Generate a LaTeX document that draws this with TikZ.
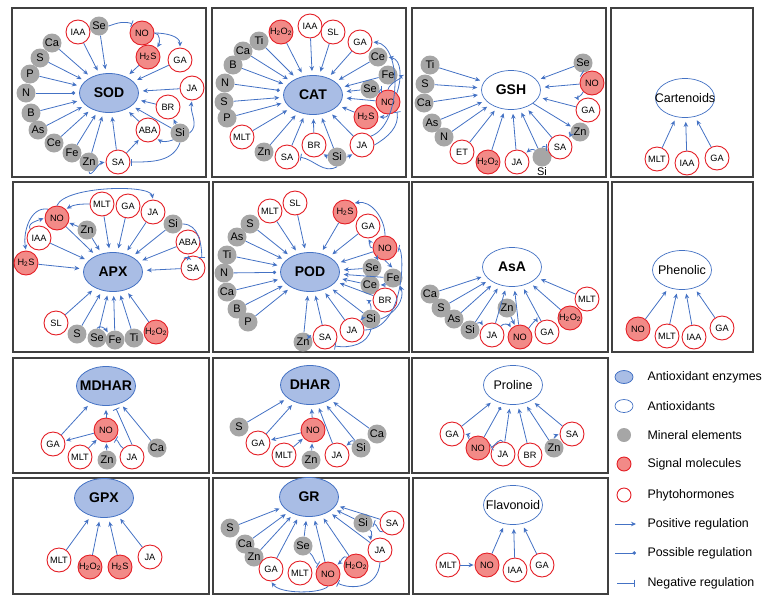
\documentclass[tikz,border=0pt]{standalone}
\usepackage{fontspec}
\setmainfont{Liberation Sans}
\usetikzlibrary{shapes.geometric,arrows.meta}
\definecolor{arr}{HTML}{4472C4}
\definecolor{enzfill}{HTML}{A9BDE5}
\definecolor{minfill}{HTML}{A6A6A6}
\definecolor{sigfill}{HTML}{F28A87}
\definecolor{redline}{HTML}{E41E25}
\definecolor{frame}{HTML}{404040}
\tikzset{
  enzym/.style={ellipse, draw=arr, fill=enzfill, line width=0.8pt, minimum width=59pt, minimum height=39pt, inner xsep=-12pt, inner ysep=0pt, font=\fontsize{14}{14}\selectfont\bfseries},
  antiox/.style={enzym, fill=white, line width=0.7pt, font=\fontsize{12.5}{12.5}\selectfont},
  minel/.style={circle, fill=minfill, minimum size=19pt, inner sep=0pt, font=\fontsize{11}{11}\selectfont},
  phyto/.style={circle, draw=redline, fill=white, line width=0.9pt, minimum size=24pt, inner sep=0pt, font=\fontsize{9.2}{9.2}\selectfont},
  sigmol/.style={phyto, fill=sigfill},
  activ/.style={draw=arr, line width=0.8pt, -{Stealth[length=5pt,width=4.5pt]}, shorten >=1pt},
  possib/.style={activ, -{Circle[length=3.5pt]}},
  inhib/.style={activ, -{Bar[width=7pt]}},
  fan/.style={shorten >=4pt},
  panel/.style={draw=frame, line width=1.2pt},
  legtext/.style={anchor=west, font=\fontsize{12.4}{12.4}\selectfont},
}
\begin{document}
\begin{tikzpicture}[x=1pt,y=-1pt]
\useasboundingbox (0,0) rectangle (763,600);
% panel frames
\draw[panel] (12,8) rectangle (206,177);
\draw[panel] (212,8) rectangle (406,177);
\draw[panel] (412,8) rectangle (606,177);
\draw[panel] (611,8) rectangle (753,177);
\draw[panel] (13,182) rectangle (209,352);
\draw[panel] (213,182) rectangle (409,352);
\draw[panel] (412,182) rectangle (608,352);
\draw[panel] (612,182) rectangle (753,352);
\draw[panel] (13,358) rectangle (209,473);
\draw[panel] (213,358) rectangle (409,473);
\draw[panel] (412,358) rectangle (608,473);
\draw[panel] (13,478) rectangle (209,594);
\draw[panel] (213,478) rectangle (409,594);
\draw[panel] (413,478) rectangle (608,594);

% SOD
\node[enzym] (SOD) at (109,93) {SOD};
\node[minel] (sSe) at (99,26) {Se};
\node[phyto] (sIAA) at (78,32) {IAA};
\node[sigmol] (sNO) at (142,33) {NO};
\node[sigmol] (sH2S) at (148,57) {H\textsubscript{2}S};
\node[phyto] (sGA) at (180,60) {GA};
\node[phyto] (sJA) at (192,88) {JA};
\node[phyto] (sBR) at (168,107) {BR};
\node[minel] (sSi) at (180,133) {Si};
\node[phyto] (sABA) at (148,130) {ABA};
\node[phyto] (sSA) at (118,162) {SA};
\node[minel] (sZn) at (89,162) {Zn};
\node[minel] (sFe) at (72,153) {Fe};
\node[minel] (sCe) at (54,143) {Ce};
\node[minel] (sAs) at (38,130) {As};
\node[minel] (sB) at (31,113) {B};
\node[minel] (sN) at (26,93) {N};
\node[minel] (sP) at (30,74) {P};
\node[minel] (sS) at (40,58) {S};
\node[minel] (sCa) at (52,43) {Ca};
\draw[activ,fan] (sCa) -- (SOD);
\draw[activ,fan] (sS) -- (SOD);
\draw[activ,fan] (sP) -- (SOD);
\draw[possib,fan] (sN) -- (SOD);
\draw[activ,fan] (sB) -- (SOD);
\draw[activ,fan] (sAs) -- (SOD);
\draw[activ,fan] (sCe) -- (SOD);
\draw[activ,fan] (sFe) -- (SOD);
\draw[activ,fan] (sZn) -- (SOD);
\draw[activ,fan] (sSA) -- (SOD);
\draw[activ,fan] (sIAA) -- (SOD);
\draw[activ,fan] (sSe) -- (SOD);
\draw[activ,fan] (sH2S) -- (SOD);
\draw[activ,fan] (sGA) -- (SOD);
\draw[activ,fan] (sJA) -- (SOD);
\draw[activ,fan] (sBR) -- (SOD);
\draw[activ,fan] (sSi) -- (SOD);
\draw[activ,fan] (sABA) -- (SOD);
\draw[activ] (sNO.east) to[out=0,in=60] (sH2S.north east);
\draw[activ] (sNO.east) to[out=0,in=90] (sGA.north);
\draw[inhib] (sSe.east) to[out=20,in=160] (sNO.north west);
\draw[activ] (sZn.south) to[out=-80,in=190] (sSA.west);
\draw[activ] (sSA) -- (sABA);
\draw[activ] (sSi.south west) to[out=200,in=-30] (sABA.south east);
\draw[activ] (sSi) -- (sBR);
\draw[activ] (sSi.east) to[out=40,in=-100] (sJA.south);
\draw[inhib] (sSi.south) to[out=-110,in=0] (sSA.east);

% CAT
\node[enzym] (CAT) at (313,95) {CAT};
\node[sigmol] (cH2O2) at (281,32) {H\textsubscript{2}O\textsubscript{2}};
\node[phyto] (cIAA) at (310,26) {IAA};
\node[phyto] (cSL) at (333,32) {SL};
\node[phyto] (cGA) at (360,42) {GA};
\node[minel] (cCe) at (378,57) {Ce};
\node[minel] (cFe) at (388,75) {Fe};
\node[minel] (cSe) at (370,89) {Se};
\node[sigmol] (cNO) at (388,102) {NO};
\node[sigmol] (cH2S) at (366,117) {H\textsubscript{2}S};
\node[phyto] (cJA) at (362,145) {JA};
\node[minel] (cSi) at (337,157) {Si};
\node[phyto] (cBR) at (314,145) {BR};
\node[phyto] (cSA) at (287,157) {SA};
\node[minel] (cZn) at (264,152) {Zn};
\node[phyto] (cMLT) at (242,137) {MLT};
\node[minel] (cP) at (227,118) {P};
\node[minel] (cS) at (224,102) {S};
\node[minel] (cN) at (225,83) {N};
\node[minel] (cB) at (233,65) {B};
\node[minel] (cCa) at (243,51) {Ca};
\node[minel] (cTi) at (259,41) {Ti};
\draw[activ,fan] (cTi) -- (CAT);
\draw[activ,fan] (cCa) -- (CAT);
\draw[activ,fan] (cB) -- (CAT);
\draw[possib,fan] (cN) -- (CAT);
\draw[activ,fan] (cS) -- (CAT);
\draw[activ,fan] (cP) -- (CAT);
\draw[activ,fan] (cMLT) -- (CAT);
\draw[activ,fan] (cZn) -- (CAT);
\draw[activ,fan] (cSA) -- (CAT);
\draw[activ,fan] (cBR) -- (CAT);
\draw[activ,fan] (cSi) -- (CAT);
\draw[activ,fan] (cJA) -- (CAT);
\draw[activ,fan] (cH2S) -- (CAT);
\draw[activ,fan] (cNO) -- (CAT);
\draw[activ,fan] (cSe) -- (CAT);
\draw[activ,fan] (cFe) -- (CAT);
\draw[activ,fan] (cCe) -- (CAT);
\draw[activ,fan] (cGA) -- (CAT);
\draw[activ,fan] (cSL) -- (CAT);
\draw[activ,fan] (cIAA) -- (CAT);
\draw[activ,fan] (cH2O2) -- (CAT);
\draw[activ] (cJA.north east) .. controls (402,125) and (402,45) .. (cGA.east);
\draw[activ] (cNO.north east) to[out=70,in=-10] (cCe.east);
\draw[activ] (cNO.north) to[out=80,in=-20] (cFe.east);
\draw[inhib] (cNO.north west) to[out=140,in=0] (cSe.east);
\draw[activ] (cNO.south) to[out=-100,in=0] (cH2S.east);
\draw[inhib] (cJA.east) to[out=30,in=-80] (cNO.south east);
\draw[activ] (cSi.east) to[out=-10,in=210] (cJA.south west);
\draw[activ] (cSi.west) to[out=190,in=-30] (cBR.south east);
\draw[inhib] (cSi.south) to[out=-150,in=-10] (cSA.east);

% GSH
\node[antiox,font=\fontsize{14}{14}\selectfont\bfseries] (GSH) at (511,90) {GSH};
\node[minel] (gTi) at (430,65) {Ti};
\node[minel] (gS) at (425,84) {S};
\node[minel] (gCa) at (424,103) {Ca};
\node[minel] (gAs) at (432,123) {As};
\node[minel] (gN) at (444,137) {N};
\node[phyto] (gET) at (462,152) {ET};
\node[sigmol] (gH2O2) at (488,162) {H\textsubscript{2}O\textsubscript{2}};
\node[phyto] (gJA) at (517,162) {JA};
\node[minel, label={[font=\fontsize{11}{11}\selectfont, inner sep=1pt]below:Si}] (gSi) at (542,157) {};
\node[phyto] (gSA) at (560,147) {SA};
\node[minel] (gZn) at (580,132) {Zn};
\node[phyto] (gGA) at (588,110) {GA};
\node[sigmol] (gNO) at (592,83) {NO};
\node[minel] (gSe) at (583,63) {Se};
\draw[activ,fan] (gTi) -- (GSH);
\draw[activ,fan] (gS) -- (GSH);
\draw[activ,fan] (gCa) -- (GSH);
\draw[activ,fan] (gAs) -- (GSH);
\draw[activ,fan] (gN) -- (GSH);
\draw[activ,fan] (gET) -- (GSH);
\draw[activ,fan] (gH2O2) -- (GSH);
\draw[activ,fan] (gJA) -- (GSH);
\draw[activ,fan] (gSi) -- (GSH);
\draw[activ,fan] (gSA) -- (GSH);
\draw[activ,fan] (gSe) -- (GSH);
\draw[activ,fan] (gNO) -- (GSH);
\draw[activ,fan] (gGA) -- (GSH);
\draw[activ] (GSH) -- (gZn);
\draw[activ] (gZn.west) to[out=170,in=60] (gSA.north east);
\draw[inhib] (gSe.south) to[out=-80,in=150] (gNO.north west);
\draw[activ] (gNO.south west) to[out=-110,in=120] (gGA.north west);
\draw[activ] (gSi.north west) to[out=150,in=40] (gJA.north east);
\draw[inhib] (gSi.north) to[out=80,in=180] (gSA.west);

% Cartenoids
\node[antiox] (CAR) at (685,98) {Cartenoids};
\node[phyto] (kMLT) at (657,159) {MLT};
\node[phyto] (kIAA) at (687,163) {IAA};
\node[phyto] (kGA) at (717,158) {GA};
\draw[activ,fan] (kMLT) -- (CAR);
\draw[activ,fan] (kIAA) -- (CAR);
\draw[activ,fan] (kGA) -- (CAR);

% APX
\node[enzym] (APX) at (113,272) {APX};
\node[sigmol] (aH2S) at (26,263) {H\textsubscript{2}S};
\node[phyto] (aIAA) at (39,238) {IAA};
\node[sigmol] (aNO) at (57,218) {NO};
\node[minel] (aZn) at (87,230) {Zn};
\node[phyto] (aMLT) at (102,204) {MLT};
\node[phyto] (aGA) at (128,206) {GA};
\node[phyto] (aJA) at (153,212) {JA};
\node[minel] (aSi) at (173,224) {Si};
\node[phyto] (aABA) at (188,242) {ABA};
\node[phyto] (aSA) at (193,268) {SA};
\node[phyto] (aSL) at (56,323) {SL};
\node[minel] (aS) at (77,334) {S};
\node[minel] (aSe) at (97,338) {Se};
\node[minel] (aFe) at (115,340) {Fe};
\node[minel] (aTi) at (134,338) {Ti};
\node[sigmol] (aH2O2) at (156,332) {H\textsubscript{2}O\textsubscript{2}};
\draw[activ,fan] (aH2S) -- (APX);
\draw[activ,fan] (aIAA) -- (APX);
\draw[activ,fan] (aNO) -- (APX);
\draw[activ,fan] (aZn) -- (APX);
\draw[activ,fan] (aMLT) -- (APX);
\draw[activ,fan] (aGA) -- (APX);
\draw[activ,fan] (aJA) -- (APX);
\draw[activ,fan] (aSi) -- (APX);
\draw[activ,fan] (aABA) -- (APX);
\draw[activ,fan] (aSA) -- (APX);
\draw[activ,fan] (aSL) -- (APX);
\draw[activ,fan] (aS) -- (APX);
\draw[activ,fan] (aSe) -- (APX);
\draw[activ,fan] (aFe) -- (APX);
\draw[activ,fan] (aTi) -- (APX);
\draw[activ,fan] (aH2O2) -- (APX);
\draw[activ] (aZn) -- (aNO);
\draw[activ] (aMLT.west) to[out=180,in=30] (aNO.north east);
\draw[activ] (aIAA.north west) to[out=120,in=200] (aNO.west);
\draw[activ] (aNO.north west) to[out=170,in=100] (aH2S.north);
\draw[activ] (aNO.north) .. controls (65,186) and (150,184) .. (aJA.north);
\draw[inhib] (aSi.east) to[out=0,in=90] (aSA.north east);
\draw[activ] (aSA.north west) to[out=120,in=-80] (aABA.south);
\draw[activ] (aSe.north) to[out=60,in=120] (aFe.north west);

% POD
\node[enzym] (POD) at (310,272) {POD};
\node[phyto] (pMLT) at (270,211) {MLT};
\node[phyto] (pSL) at (295,203) {SL};
\node[minel] (pS) at (250,224) {S};
\node[minel] (pAs) at (237,237) {As};
\node[minel] (pTi) at (227,255) {Ti};
\node[minel] (pN) at (224,273) {N};
\node[minel] (pCa) at (227,292) {Ca};
\node[minel] (pB) at (237,309) {B};
\node[minel] (pP) at (248,322) {P};
\node[sigmol] (pH2S) at (345,212) {H\textsubscript{2}S};
\node[phyto] (pGA) at (368,226) {GA};
\node[sigmol] (pNO) at (385,248) {NO};
\node[minel] (pSe) at (372,268) {Se};
\node[minel] (pFe) at (393,278) {Fe};
\node[minel] (pCe) at (370,285) {Ce};
\node[phyto] (pBR) at (385,300) {BR};
\node[minel] (pSi) at (371,319) {Si};
\node[phyto] (pJA) at (352,330) {JA};
\node[phyto] (pSA) at (325,337) {SA};
\node[minel] (pZn) at (303,342) {Zn};
\draw[activ,fan] (pS) -- (POD);
\draw[activ,fan] (pAs) -- (POD);
\draw[activ,fan] (pTi) -- (POD);
\draw[possib,fan] (pN) -- (POD);
\draw[activ,fan] (pCa) -- (POD);
\draw[activ,fan] (pB) -- (POD);
\draw[activ,fan] (pP) -- (POD);
\draw[activ,fan] (pMLT) -- (POD);
\draw[activ,fan] (pSL) -- (POD);
\draw[activ,fan] (pH2S) -- (POD);
\draw[activ,fan] (pGA) -- (POD);
\draw[activ,fan] (pNO) -- (POD);
\draw[activ,fan] (pSe) -- (POD);
\draw[activ,fan] (pFe) -- (POD);
\draw[activ,fan] (pCe) -- (POD);
\draw[activ,fan] (pBR) -- (POD);
\draw[activ,fan] (pSi) -- (POD);
\draw[activ,fan] (pJA) -- (POD);
\draw[activ,fan] (pSA) -- (POD);
\draw[activ,fan] (pZn) -- (POD);
\draw[activ] (pNO.north) to[out=90,in=10] (pH2S.north east);
\draw[activ] (pNO.west) to[out=180,in=-60] (pGA.south);
\draw[activ] (pNO.south west) -- (pSe.north east);
\draw[activ] (pNO.south) -- (pFe.north);
\draw[activ] (pFe.south west) -- (pCe.east);
\draw[activ] (pSi.north) to[out=80,in=200] (pBR.west);
\draw[activ] (pSi.west) to[out=190,in=60] (pJA.north east);
\draw[activ] (pSi.east) to[out=20,in=-70] (pFe.south east);
\draw[inhib] (pJA.east) .. controls (405,330) and (405,250) .. (pNO.east);
\draw[activ] (pZn.north east) to[out=40,in=180] (pSA.west);
\draw[inhib] (pSi.south) to[out=-100,in=-10] (pSA.south east);

% AsA
\node[antiox,font=\fontsize{14}{14}\selectfont\bfseries] (AsA) at (512,267) {AsA};
\node[minel] (xCa) at (430,294) {Ca};
\node[minel] (xS) at (441,308) {S};
\node[minel] (xAs) at (454,319) {As};
\node[minel] (xSi) at (470,330) {Si};
\node[phyto] (xJA) at (492,335) {JA};
\node[minel] (xZn) at (507,308) {Zn};
\node[sigmol] (xNO) at (520,337) {NO};
\node[phyto] (xGA) at (547,332) {GA};
\node[sigmol] (xH2O2) at (570,318) {H\textsubscript{2}O\textsubscript{2}};
\node[phyto] (xMLT) at (587,299) {MLT};
\draw[activ,fan] (xCa) -- (AsA);
\draw[activ,fan] (xS) -- (AsA);
\draw[activ,fan] (xAs) -- (AsA);
\draw[activ,fan] (xSi) -- (AsA);
\draw[activ,fan] (xJA) -- (AsA);
\draw[activ,fan] (xNO) -- (AsA);
\draw[activ,fan] (xGA) -- (AsA);
\draw[activ,fan] (xH2O2) -- (AsA);
\draw[activ,fan] (xMLT) -- (AsA);
\draw[activ] (xZn) -- (xNO);
\draw[activ] (xSi.north east) to[out=40,in=120] (xJA.north west);
\draw[activ] (xJA.north east) to[out=60,in=120] (xNO.north west);
\draw[activ] (xNO.north east) to[out=60,in=120] (xGA.north west);

% Phenolic
\node[antiox] (PHE) at (682,270) {Phenolic};
\node[sigmol] (hNO) at (638,329) {NO};
\node[phyto] (hMLT) at (667,336) {MLT};
\node[phyto] (hIAA) at (694,337) {IAA};
\node[phyto] (hGA) at (722,328) {GA};
\draw[activ,fan] (hNO) -- (PHE);
\draw[activ,fan] (hMLT) -- (PHE);
\draw[activ,fan] (hIAA) -- (PHE);
\draw[activ,fan] (hGA) -- (PHE);

% MDHAR
\node[enzym] (MDHAR) at (106,386) {MDHAR};
\node[phyto] (mGA) at (53,444) {GA};
\node[sigmol] (mNO) at (106,430) {NO};
\node[phyto] (mMLT) at (80,457) {MLT};
\node[minel] (mZn) at (107,460) {Zn};
\node[phyto] (mJA) at (132,457) {JA};
\node[minel] (mCa) at (157,448) {Ca};
\draw[activ,fan] (mGA) -- (MDHAR);
\draw[activ,fan] (mNO) -- (MDHAR);
\draw[inhib,fan] (mJA.north) -- (MDHAR);
\draw[activ,fan] (mCa) -- (MDHAR);
\draw[activ] (mNO) -- (mGA);
\draw[activ] (mMLT) -- (mNO);
\draw[activ] (mZn) -- (mNO);
\draw[inhib] (mJA.north west) to[out=150,in=-30] (mNO.south east);

% DHAR
\node[enzym] (DHAR) at (310,385) {DHAR};
\node[minel] (dS) at (239,427) {S};
\node[phyto] (dGA) at (258,443) {GA};
\node[sigmol] (dNO) at (313,430) {NO};
\node[phyto] (dMLT) at (284,455) {MLT};
\node[minel] (dZn) at (311,460) {Zn};
\node[phyto] (dJA) at (337,455) {JA};
\node[minel] (dSi) at (361,448) {Si};
\node[minel] (dCa) at (377,434) {Ca};
\draw[activ,fan] (dS) -- (DHAR);
\draw[activ,fan] (dGA) -- (DHAR);
\draw[activ,fan] (dNO) -- (DHAR);
\draw[activ,fan] (dJA) -- (DHAR);
\draw[activ,fan] (dSi) -- (DHAR);
\draw[activ,fan] (dCa) -- (DHAR);
\draw[activ] (dNO) -- (dGA);
\draw[activ] (dMLT) -- (dNO);
\draw[activ] (dZn) -- (dNO);
\draw[activ] (dSi.north west) to[out=150,in=40] (dJA.north east);

% Proline
\node[antiox] (PRO) at (513,385) {Proline};
\node[phyto] (rGA) at (452,434) {GA};
\node[sigmol] (rNO) at (478,448) {NO};
\node[phyto] (rJA) at (503,454) {JA};
\node[phyto] (rBR) at (530,455) {BR};
\node[minel] (rZn) at (554,448) {Zn};
\node[phyto] (rSA) at (572,434) {SA};
\draw[activ,fan] (rGA) -- (PRO);
\draw[possib,fan] (rNO) -- (PRO);
\draw[activ,fan] (rJA) -- (PRO);
\draw[activ,fan] (rBR) -- (PRO);
\draw[activ,fan] (rZn) -- (PRO);
\draw[activ,fan] (rSA) -- (PRO);
\draw[activ] (rNO.north west) to[out=130,in=-10] (rGA.east);
\draw[inhib] (rJA.north) to[out=120,in=30] (rNO.east);
\draw[activ] (rZn.north) to[out=90,in=200] (rSA.west);

% GPX
\node[enzym] (GPX) at (104,498) {GPX};
\node[phyto] (qMLT) at (59,560) {MLT};
\node[sigmol] (qH2O2) at (90,567) {H\textsubscript{2}O\textsubscript{2}};
\node[sigmol] (qH2S) at (120,567) {H\textsubscript{2}S};
\node[phyto] (qJA) at (150,557) {JA};
\draw[activ,fan] (qMLT) -- (GPX);
\draw[activ,fan] (qH2O2) -- (GPX);
\draw[activ,fan] (qH2S) -- (GPX);
\draw[activ,fan] (qJA) -- (GPX);

% GR
\node[enzym] (GR) at (309,497) {GR};
\node[minel] (tS) at (230,528) {S};
\node[minel] (tCa) at (245,544) {Ca};
\node[minel] (tZn) at (254,557) {Zn};
\node[phyto] (tGA) at (271,569) {GA};
\node[minel] (tSe) at (303,546) {Se};
\node[phyto] (tMLT) at (300,573) {MLT};
\node[sigmol] (tNO) at (328,574) {NO};
\node[sigmol] (tH2O2) at (356,566) {H\textsubscript{2}O\textsubscript{2}};
\node[phyto] (tJA) at (380,550) {JA};
\node[minel] (tSi) at (363,523) {Si};
\node[phyto] (tSA) at (392,523) {SA};
\draw[activ,fan] (tS) -- (GR);
\draw[activ,fan] (tCa) -- (GR);
\draw[activ,fan] (tZn) -- (GR);
\draw[activ,fan] (tGA) -- (GR);
\draw[activ,fan] (tSe) -- (GR);
\draw[activ,fan] (tNO) -- (GR);
\draw[activ,fan] (tH2O2) -- (GR);
\draw[activ,fan] (tJA) -- (GR);
\draw[activ,fan] (tSi) -- (GR);
\draw[activ,fan] (tSA) -- (GR);
\draw[inhib] (tSe.south east) to[out=-40,in=150] (tNO.north west);
\draw[activ] (tH2O2.north west) to[out=150,in=40] (tNO.north east);
\draw[activ] (tNO.south) .. controls (320,594) and (280,594) .. (tGA.south);
\draw[inhib] (tJA.south) .. controls (378,588) and (352,590) .. (tNO.south east);
\draw[activ] (tSi.south east) to[out=-30,in=100] (tJA.north west);
\draw[inhib] (tSA.south west) to[out=200,in=-20] (tSi.east);

% Flavonoid
\node[antiox] (FLA) at (513,505) {Flavonoid};
\node[phyto] (fMLT) at (448,565) {MLT};
\node[sigmol] (fNO) at (487,565) {NO};
\node[phyto] (fIAA) at (515,570) {IAA};
\node[phyto] (fGA) at (542,565) {GA};
\draw[activ] (fMLT) -- (fNO);
\draw[activ,fan] (fNO) -- (FLA);
\draw[activ,fan] (fIAA) -- (FLA);
\draw[activ,fan] (fGA) -- (FLA);

% legend
\node[enzym, minimum width=18pt, minimum height=13pt] (lgEnz) at (624,377) {};
\node[legtext] (lgEnzT) at (644,377) {Antioxidant enzymes};
\node[antiox, minimum width=18pt, minimum height=13pt] (lgAnt) at (624,406) {};
\node[legtext] (lgAntT) at (644,406) {Antioxidants};
\node[minel, minimum size=14pt] (lgMin) at (624,435) {};
\node[legtext] (lgMinT) at (644,435) {Mineral elements};
\node[sigmol, minimum size=14pt] (lgSig) at (624,464) {};
\node[legtext] (lgSigT) at (644,464) {Signal molecules};
\node[phyto, minimum size=14pt] (lgPhy) at (624,495) {};
\node[legtext] (lgPhyT) at (644,495) {Phytohormones};
\coordinate (lgPosA) at (615,524);
\coordinate (lgPosB) at (637,524);
\draw[activ] (lgPosA) -- (lgPosB);
\node[legtext] (lgPosT) at (644,524) {Positive regulation};
\coordinate (lgMayA) at (615,553);
\coordinate (lgMayB) at (637,553);
\draw[possib] (lgMayA) -- (lgMayB);
\node[legtext] (lgMayT) at (644,553) {Possible regulation};
\coordinate (lgNegA) at (617,583);
\coordinate (lgNegB) at (636,583);
\draw[inhib] (lgNegA) -- (lgNegB);
\node[legtext] (lgNegT) at (644,583) {Negative regulation};
\end{tikzpicture}
\end{document}
